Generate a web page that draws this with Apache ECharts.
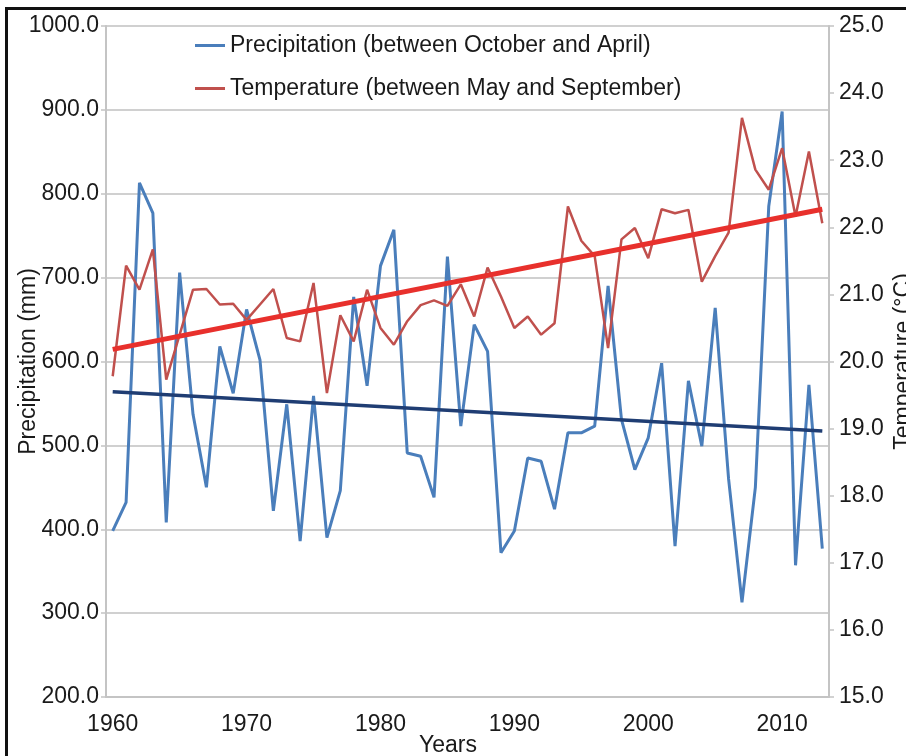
<!DOCTYPE html>
<html>
<head>
<meta charset="utf-8">
<script src="https://cdn.jsdelivr.net/npm/echarts@6/dist/echarts.min.js"></script>
<style>
  html, body { margin: 0; padding: 0; background: #fff; }
  #chart { width: 906px; height: 756px; }
</style>
</head>
<body>
<div id="chart"></div>
<script>
// Years on the horizontal axis
const years = [
  '1960','1961','1962','1963','1964','1965','1966','1967','1968','1969',
  '1970','1971','1972','1973','1974','1975','1976','1977','1978','1979',
  '1980','1981','1982','1983','1984','1985','1986','1987','1988','1989',
  '1990','1991','1992','1993','1994','1995','1996','1997','1998','1999',
  '2000','2001','2002','2003','2004','2005','2006','2007','2008','2009',
  '2010','2011','2012','2013'
];

// Precipitation between October and April (mm)
const precipitation = [
  398, 432, 813, 777, 408, 706, 537, 450, 618, 562,
  662, 602, 422, 549, 386, 559, 390, 446, 677, 571,
  714, 757, 491, 487, 438, 725, 523, 644, 612, 372,
  398, 485, 481, 424, 515, 515, 523, 690, 531, 471,
  509, 598, 380, 577, 499, 664, 460, 313, 450, 785,
  898, 357, 572, 377
];

// Mean temperature between May and September (°C)
const temperature = [
  19.78, 21.43, 21.07, 21.67, 19.73, 20.40, 21.07, 21.08, 20.85, 20.86,
  20.62, 20.85, 21.08, 20.35, 20.30, 21.17, 19.53, 20.69, 20.30, 21.07,
  20.50, 20.25, 20.60, 20.84, 20.91, 20.83, 21.15, 20.67, 21.40, 20.97,
  20.50, 20.67, 20.40, 20.57, 22.31, 21.80, 21.57, 20.20, 21.82, 21.99,
  21.54, 22.27, 22.21, 22.26, 21.19, 21.57, 21.92, 23.63, 22.86, 22.56,
  23.18, 22.16, 23.13, 22.06
];

// Linear trend lines: value at first and last year
const precipTrendEnds = [564, 517];
const tempTrendEnds = [20.18, 22.27];

// Axis ranges
const precipAxis = { min: 200, max: 1000, interval: 100 };
const tempAxis = { min: 15, max: 25, interval: 1 };

const seriesNames = [
  'Precipitation (between October and April)',
  'Temperature (between May and September)'
];

function trendLine(ends) {
  return years.map((y, i) => (i === 0 ? ends[0] : i === years.length - 1 ? ends[1] : null));
}

const FONT = '"Liberation Sans", Arial, sans-serif';
const FS = 23;
const TEXT = '#1a1a1a';
const AXIS_GREY = '#c4c4c4';

const chart = echarts.init(document.getElementById('chart'));
chart.setOption({
  animation: false,
  backgroundColor: '#ffffff',
  textStyle: { fontFamily: FONT },
  grid: { left: 106, right: 77, top: 26, bottom: 59, containLabel: false, outerBoundsMode: 'none' },
  graphic: [
    { type: 'rect', silent: true, shape: { x: 5, y: 7, width: 901, height: 3 }, style: { fill: '#111' } },
    { type: 'rect', silent: true, shape: { x: 5, y: 7, width: 3, height: 749 }, style: { fill: '#111' } }
  ],
  legend: {
    orient: 'vertical',
    left: 195,
    top: 34,
    padding: 0,
    itemGap: 20,
    itemWidth: 30,
    itemHeight: 3,
    icon: 'rect',
    data: seriesNames,
    textStyle: { fontFamily: FONT, fontSize: FS, color: TEXT }
  },
  xAxis: {
    type: 'category',
    data: years,
    boundaryGap: true,
    name: 'Years',
    nameLocation: 'middle',
    nameGap: 37,
    nameMoveOverlap: false,
    nameTextStyle: { fontFamily: FONT, fontSize: FS, color: TEXT, padding: [0, 39, 0, 0] },
    axisLine: { lineStyle: { color: AXIS_GREY, width: 2 } },
    axisTick: { interval: 9, length: 5, lineStyle: { color: AXIS_GREY, width: 1.5 } },
    axisLabel: { interval: 9, margin: 16, fontFamily: FONT, fontSize: FS, color: TEXT },
    splitLine: { show: false }
  },
  yAxis: [
    {
      type: 'value',
      min: precipAxis.min,
      max: precipAxis.max,
      interval: precipAxis.interval,
      name: 'Precipitation (mm)',
      nameLocation: 'middle',
      nameGap: 66,
      nameMoveOverlap: false,
      nameTextStyle: { fontFamily: FONT, fontSize: FS, color: TEXT },
      axisLine: { show: true, lineStyle: { color: AXIS_GREY, width: 2 } },
      axisTick: { show: true, length: 5, lineStyle: { color: AXIS_GREY, width: 1.5 } },
      axisLabel: { margin: 7, fontFamily: FONT, fontSize: FS, color: TEXT, formatter: v => v.toFixed(1) },
      splitLine: { show: true, lineStyle: { color: '#d0d0d0', width: 2 } }
    },
    {
      type: 'value',
      min: tempAxis.min,
      max: tempAxis.max,
      interval: tempAxis.interval,
      name: 'Temperature (°C)',
      nameLocation: 'middle',
      nameRotate: 90,
      nameGap: 63,
      nameMoveOverlap: false,
      nameTextStyle: { fontFamily: FONT, fontSize: FS, color: TEXT },
      axisLine: { show: true, lineStyle: { color: AXIS_GREY, width: 2 } },
      axisTick: { show: true, length: 5, lineStyle: { color: AXIS_GREY, width: 1.5 } },
      axisLabel: { margin: 10, fontFamily: FONT, fontSize: FS, color: TEXT, formatter: v => v.toFixed(1) },
      splitLine: { show: false }
    }
  ],
  series: [
    {
      name: seriesNames[0],
      type: 'line',
      yAxisIndex: 0,
      data: precipitation,
      symbol: 'none',
      lineStyle: { color: '#4a7ebb', width: 3 },
      itemStyle: { color: '#4a7ebb' }
    },
    {
      name: seriesNames[1],
      type: 'line',
      yAxisIndex: 1,
      data: temperature,
      symbol: 'none',
      lineStyle: { color: '#c0504d', width: 2.5 },
      itemStyle: { color: '#c0504d' }
    },
    {
      name: 'Precipitation trend',
      type: 'line',
      yAxisIndex: 0,
      data: trendLine(precipTrendEnds),
      connectNulls: true,
      symbol: 'none',
      lineStyle: { color: '#1f3d73', width: 3.5 },
      itemStyle: { color: '#1f3d73' }
    },
    {
      name: 'Temperature trend',
      type: 'line',
      yAxisIndex: 1,
      data: trendLine(tempTrendEnds),
      connectNulls: true,
      symbol: 'none',
      lineStyle: { color: '#e8302c', width: 5 },
      itemStyle: { color: '#e8302c' }
    }
  ]
});
</script>
</body>
</html>
